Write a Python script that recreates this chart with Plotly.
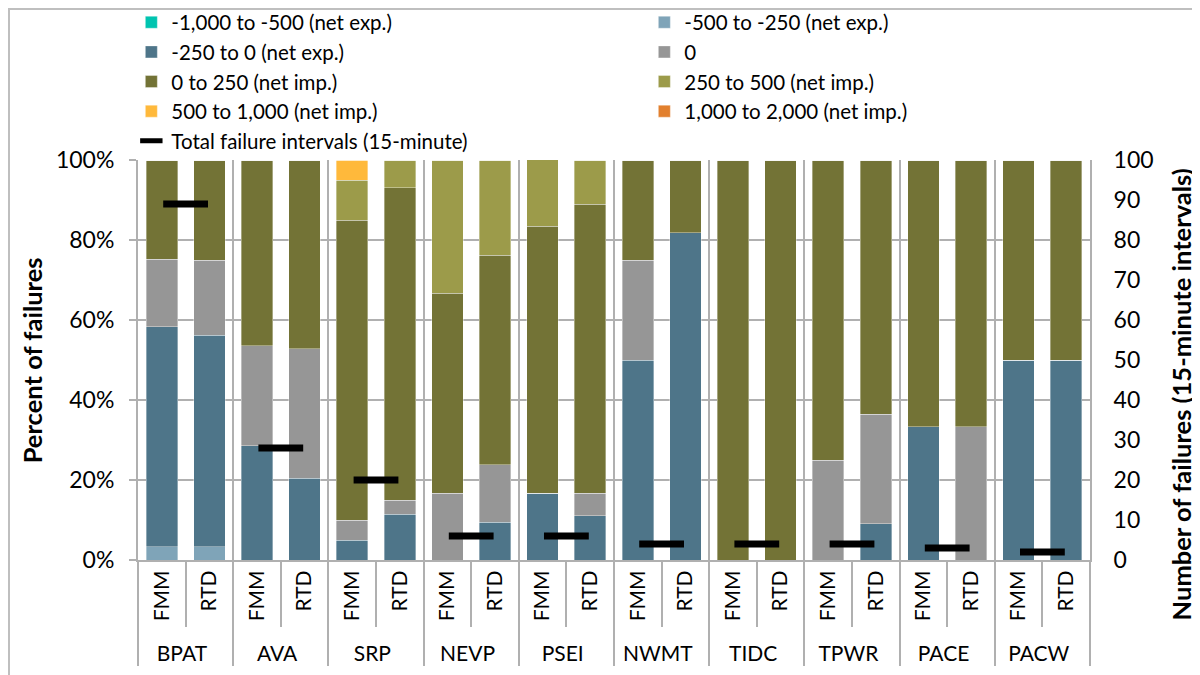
import plotly.graph_objects as go

# balancing authorities and market runs
bas = ["BPAT", "AVA", "SRP", "NEVP", "PSEI", "NWMT", "TIDC", "TPWR", "PACE", "PACW"]
markets = ["FMM", "RTD"]

# percent of failures per bin, ordered BA by BA: FMM, RTD
exp_1000 = [0, 0, 0, 0, 0, 0, 0, 0, 0, 0, 0, 0, 0, 0, 0, 0, 0, 0, 0, 0]
exp_500 = [3.3, 3.3, 0, 0, 0, 0, 0, 0, 0, 0, 0, 0, 0, 0, 0, 0, 0, 0, 0, 0]
exp_250 = [55.0, 52.9, 28.6, 20.5, 5.0, 11.5, 0, 9.5, 16.7, 11.1,
           50.0, 81.8, 0, 0, 0, 9.1, 33.3, 0, 50.0, 50.0]
zero = [16.9, 18.8, 25.0, 32.3, 5.0, 3.5, 16.7, 14.3, 0, 5.6,
        25.0, 0, 0, 0, 25.0, 27.3, 0, 33.3, 0, 0]
imp_250 = [24.8, 25.0, 46.4, 47.2, 75.0, 78.1, 50.0, 52.4, 66.7, 72.2,
           25.0, 18.2, 100, 100, 75.0, 63.6, 66.7, 66.7, 50.0, 50.0]
imp_500 = [0, 0, 0, 0, 10.0, 6.9, 33.3, 23.8, 16.7, 11.1,
           0, 0, 0, 0, 0, 0, 0, 0, 0, 0]
imp_1000 = [0, 0, 0, 0, 5.0, 0, 0, 0, 0, 0, 0, 0, 0, 0, 0, 0, 0, 0, 0, 0]
imp_2000 = [0, 0, 0, 0, 0, 0, 0, 0, 0, 0, 0, 0, 0, 0, 0, 0, 0, 0, 0, 0]

# total failure intervals per BA (right axis)
totals = [89, 28, 20, 6, 6, 4, 4, 4, 3, 2]

series = [
    ("-1,000 to -500 (net exp.)", exp_1000, "#00C4B0"),
    ("-500 to -250 (net exp.)", exp_500, "#7FA4B8"),
    ("-250 to 0 (net exp.)", exp_250, "#4E7589"),
    ("0", zero, "#969696"),
    ("0 to 250 (net imp.)", imp_250, "#737336"),
    ("250 to 500 (net imp.)", imp_500, "#9C9B4A"),
    ("500 to 1,000 (net imp.)", imp_1000, "#FFB93B"),
    ("1,000 to 2,000 (net imp.)", imp_2000, "#E2802E"),
]

FONT = "Lato"
GRID = "#B0B0B0"

x_multi = [[b for b in bas for _ in markets], [m for _ in bas for m in markets]]

fig = go.Figure()
for name, vals, color in series:
    fig.add_trace(go.Bar(
        x=x_multi, y=vals, name=name,
        marker=dict(color=color, line=dict(width=0.8, color="rgba(255,255,255,0.45)")),
    ))

# totals sit between the two bars of each BA, on a numeric overlay axis
fig.add_trace(go.Scatter(
    x=[2 * i + 0.5 for i in range(len(bas))], y=totals,
    xaxis="x2", yaxis="y2", mode="markers",
    name="Total failure intervals (15-minute)",
    marker=dict(symbol="line-ew", size=32, line=dict(width=7, color="black"), color="black"),
))

fig.update_layout(
    width=1200, height=675,
    barmode="stack", bargap=0.34,
    plot_bgcolor="white", paper_bgcolor="white",
    font=dict(family=FONT, size=23, color="black"),
    margin=dict(l=130, r=118, t=152, b=123, autoexpand=False),
    legend=dict(
        orientation="h", x=-0.007, y=1.394, xanchor="left", yanchor="top",
        entrywidth=468, entrywidthmode="pixels",
        font=dict(size=20.5), traceorder="normal",
        bgcolor="rgba(0,0,0,0)",
    ),
    xaxis=dict(
        type="multicategory", tickangle=-90, showgrid=False,
        ticks="outside", tickson="boundaries", ticklen=65, tickcolor=GRID, tickwidth=2,
        showline=True, linecolor=GRID, linewidth=2,
        showdividers=True, dividercolor=GRID, dividerwidth=2,
        tickfont=dict(size=21),
    ),
    xaxis2=dict(
        overlaying="x", range=[-0.5, 19.5], showticklabels=False,
        tickvals=[2 * i - 0.5 for i in range(1, len(bas))],
        showgrid=True, gridcolor=GRID, gridwidth=2, zeroline=False,
    ),
    yaxis=dict(
        range=[0, 100], dtick=20, ticksuffix="%", ticklabelstandoff=10,
        showgrid=True, gridcolor=GRID, gridwidth=2,
        ticks="outside", ticklen=7, tickcolor=GRID, tickwidth=2,
        showline=True, linecolor=GRID, linewidth=2, zeroline=False,
    ),
    yaxis2=dict(
        overlaying="y", side="right", anchor="x2", range=[0, 100], dtick=10,
        ticklabelstandoff=17,
        showgrid=False, showline=True, linecolor=GRID, linewidth=2, zeroline=False,
    ),
    annotations=[
        dict(text="<b>Percent of failures</b>", xref="paper", yref="paper",
             x=-0.111, y=0.5, xanchor="center", yanchor="middle",
             textangle=-90, showarrow=False, font=dict(size=25.5)),
        dict(text="<b>Number of failures (15-minute intervals)</b>", xref="paper", yref="paper",
             x=1.0956, y=0.414, xanchor="center", yanchor="middle",
             textangle=-90, showarrow=False, font=dict(size=25.5)),
    ],
    shapes=[dict(type="rect", xref="paper", yref="paper",
                 x0=-0.1355, x1=1.2, y0=-0.4, y1=1.3775,
                 line=dict(color="#BFBFBF", width=2), layer="below")],
)

fig.write_html("out.html")
